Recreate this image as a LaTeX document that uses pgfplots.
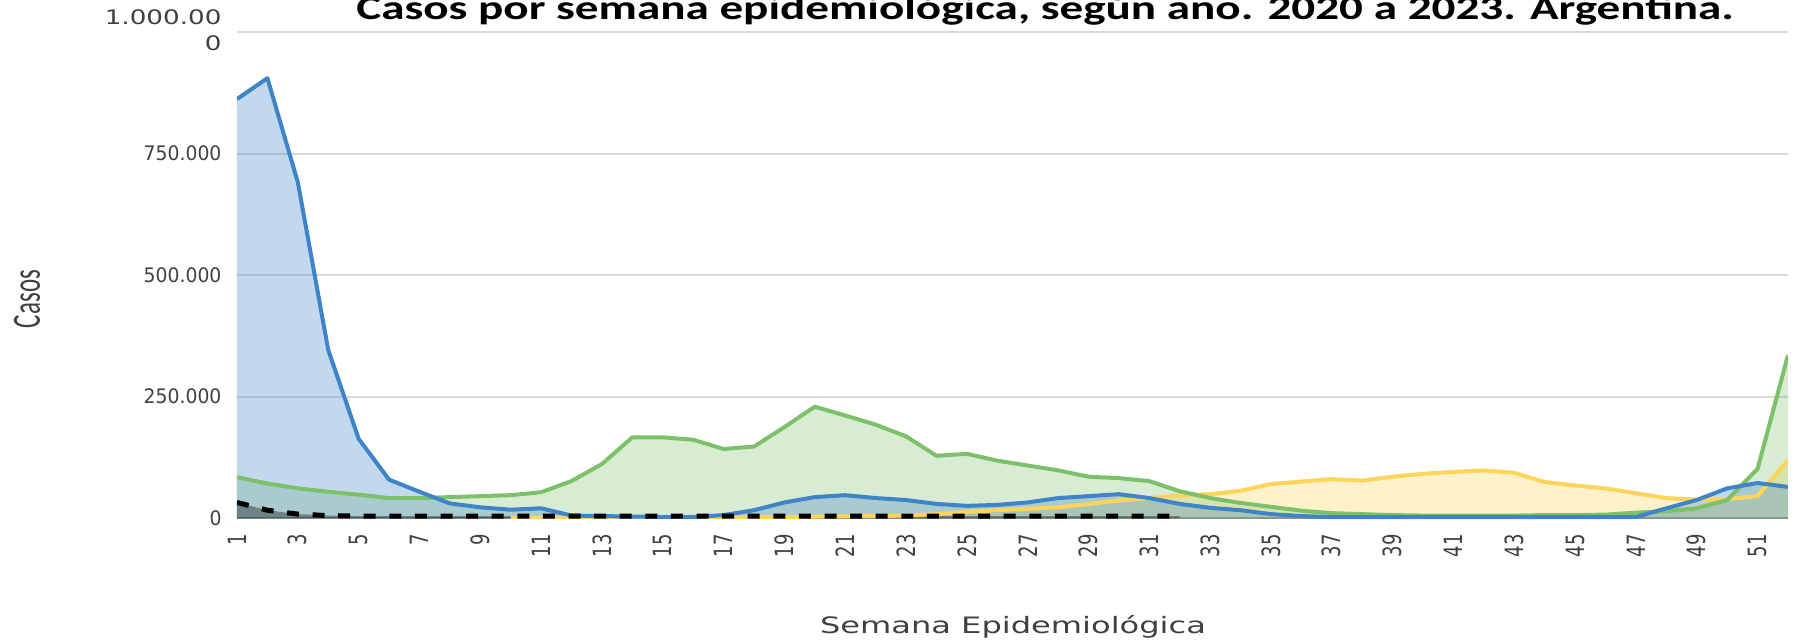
\documentclass[border=0pt]{standalone}
\usepackage{fontspec}
\setmainfont{DejaVu Sans}
\newfontfamily\carlito{Carlito}
\usepackage{pgfplots}
\pgfplotsset{compat=1.18}
\usepackage{pgfplotstable}
\usepackage{graphicx}

\definecolor{cblue}{HTML}{3E84C8}
\definecolor{cgreen}{HTML}{7CC16A}
\definecolor{cyellow}{HTML}{FFD45A}
\definecolor{cgrid}{HTML}{D9D9D9}
\definecolor{caxis}{HTML}{8C8C8C}
\definecolor{ctext}{HTML}{404040}

\newcommand\xl[1]{\scalebox{1}[1.4]{#1}}
\newcommand\yl[1]{\scalebox{0.94}[1]{#1}}

% 2020
\pgfplotstableread{
w v
10 100
11 300
12 500
13 800
14 800
15 900
16 1000
17 1200
18 1500
19 2000
20 3000
21 3500
22 4000
23 5000
24 8000
25 13000
26 16000
27 19000
28 22000
29 29000
30 36000
31 41000
32 47000
33 49000
34 56000
35 70000
36 75000
37 80000
38 77000
39 85000
40 91000
41 95000
42 98000
43 93000
44 74000
45 67000
46 61000
47 51000
48 41000
49 38000
50 39000
51 45000
52 119000
}\tyellow

% 2021
\pgfplotstableread{
w v
1 84000
2 71000
3 61000
4 54000
5 48000
6 41000
7 41000
8 43000
9 45000
10 47000
11 53000
12 76000
13 111000
14 166000
15 166000
16 161000
17 142000
18 147000
19 187000
20 229000
21 211000
22 192000
23 168000
24 128000
25 132000
26 118000
27 108000
28 98000
29 85000
30 82000
31 76000
32 55000
33 41000
34 31000
35 23000
36 15000
37 10000
38 8000
39 6000
40 5000
41 5000
42 5000
43 5000
44 6000
45 6000
46 7000
47 11000
48 14000
49 20000
50 37000
51 101000
52 335000
}\tgreen

% 2022
\pgfplotstableread{
w v
1 862000
2 905000
3 691000
4 346000
5 163000
6 79000
7 54000
8 30000
9 22000
10 17000
11 20000
12 5000
13 4000
14 3000
15 2000
16 2000
17 6000
18 16000
19 32000
20 43000
21 47000
22 41000
23 37000
24 29000
25 25000
26 27000
27 32000
28 41000
29 45000
30 49000
31 41000
32 29000
33 21000
34 16000
35 8000
36 4000
37 2000
38 2000
39 2000
40 2000
41 2000
42 2000
43 2000
44 2000
45 2000
46 2000
47 2000
48 20000
49 37000
50 61000
51 72000
52 64000
}\tblue

% 2023
\pgfplotstableread{
w v
1 32000
2 16000
3 8000
4 5000
5 4000
6 4000
7 4000
8 4000
9 4000
10 4000
11 4000
12 4000
13 4000
14 4000
15 4000
16 4000
17 4000
18 4000
19 4000
20 4000
21 4000
22 4000
23 4000
24 4000
25 4000
26 4000
27 4000
28 4000
29 4000
30 4000
31 4000
32 4000
}\tblack

\begin{document}
\begin{tikzpicture}
\useasboundingbox (-237pt,-123pt) rectangle (1565pt,518pt);
\begin{axis}[
  at={(0pt,0pt)}, anchor=south west,
  width=1551pt, height=486pt, scale only axis,
  xmin=1, xmax=52, ymin=0, ymax=1000000,
  axis x line*=bottom, axis y line*=left, axis line style={-},
  x axis line style={draw=caxis, line width=2pt},
  y axis line style={draw=none},
  ymajorgrids, grid style={draw=cgrid, line width=2pt},
  major tick length=0pt, tick style={draw=none},
  scaled y ticks=false,
  xtick={1,3,...,51},
  xticklabels={\xl{1},\xl{3},\xl{5},\xl{7},\xl{9},\xl{11},\xl{13},\xl{15},\xl{17},\xl{19},\xl{21},\xl{23},\xl{25},\xl{27},\xl{29},\xl{31},\xl{33},\xl{35},\xl{37},\xl{39},\xl{41},\xl{43},\xl{45},\xl{47},\xl{49},\xl{51}},
  xticklabel style={rotate=90, anchor=east, font=\fontsize{18}{18}\selectfont, text=ctext},
  xticklabel shift=13pt,
  ytick={0,250000,500000,750000,1000000},
  yticklabels={\yl{0},\yl{250.000},\yl{500.000},\yl{750.000},{\scalebox{1.31}[1]{\begin{tabular}{@{}r@{}}1.000.00\\0\end{tabular}}}},
  yticklabel style={font=\fontsize{20}{26}\selectfont, text=ctext, xshift=-12pt},
  xlabel={\scalebox{1.42}[1]{Semana Epidemiológica}},
  xlabel style={at={(axis description cs:0.5003,0)}, anchor=base, yshift=-115pt, font=\fontsize{22.6}{27}\selectfont, text=ctext},
  ylabel={\scalebox{1}[1.6]{Casos}},
  ylabel style={at={(axis description cs:-0.1354,0.4506)}, anchor=center, font=\carlito\fontsize{25}{25}\selectfont, text=ctext},
  title={\scalebox{1.386}[1]{Casos por semana epidemiológica, según año. 2020 a 2023. Argentina.}},
  title style={at={(axis description cs:0.521,1)}, anchor=base, yshift=6pt, font=\carlito\bfseries\fontsize{34}{34}\selectfont, text=black},
]
\addplot[draw=none, fill=cyellow, fill opacity=0.32] table[x=w,y=v]{\tyellow} \closedcycle;
\addplot[draw=none, fill=cgreen, fill opacity=0.3] table[x=w,y=v]{\tgreen} \closedcycle;
\addplot[draw=none, fill=cblue, fill opacity=0.315] table[x=w,y=v]{\tblue} \closedcycle;
\addplot[draw=none, fill=black, fill opacity=0.35] table[x=w,y=v]{\tblack} \closedcycle;
\addplot[cyellow, line width=4pt, line join=round] table[x=w,y=v]{\tyellow};
\addplot[cgreen, line width=4pt, line join=round] table[x=w,y=v]{\tgreen};
\addplot[cblue, line width=4pt, line join=round] table[x=w,y=v]{\tblue};
\addplot[black, line width=5pt, dash pattern=on 12pt off 13.6pt] table[x=w,y=v]{\tblack};
\end{axis}
\end{tikzpicture}
\end{document}
